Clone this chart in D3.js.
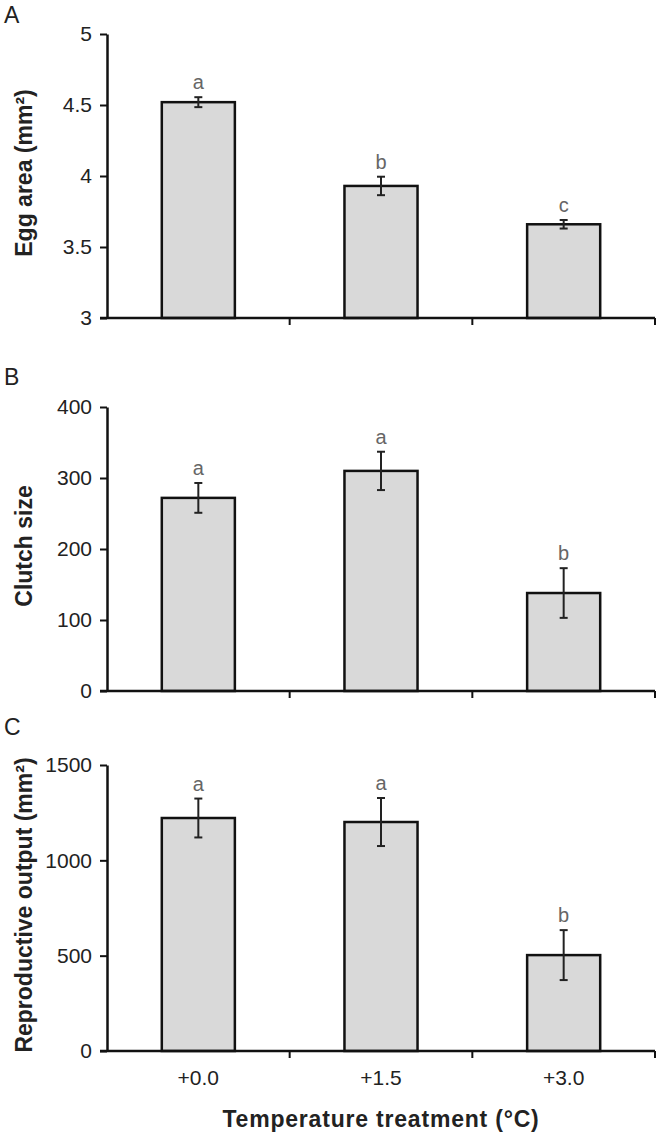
<!DOCTYPE html>
<html>
<head>
<meta charset="utf-8">
<script src="https://cdn.jsdelivr.net/npm/d3@7"></script>
<style>
  html, body { margin: 0; padding: 0; background: #fff; }
  svg { display: block; font-family: "Liberation Sans", Arial, sans-serif; }
</style>
</head>
<body>
<svg id="chart" width="660" height="1135"></svg>
<script>
// treatments on the x axis
const treatments = ['+0.0', '+1.5', '+3.0'];

// panel A: egg area (mm2)
const eggArea = [4.52, 3.93, 3.66];
const eggAreaSE = [0.035, 0.065, 0.03];
const eggLetters = ['a', 'b', 'c'];
const eggTicks = [3, 3.5, 4, 4.5, 5];

// panel B: clutch size
const clutchSize = [272, 310, 138];
const clutchSizeSE = [21, 27, 35];
const clutchLetters = ['a', 'a', 'b'];
const clutchTicks = [0, 100, 200, 300, 400];

// panel C: reproductive output (mm2)
const reproOutput = [1222, 1201, 503];
const reproOutputSE = [102, 126, 131];
const reproLetters = ['a', 'a', 'b'];
const reproTicks = [0, 500, 1000, 1500];

const svg = d3.select('#chart');

const panels = [
  { tag: 'A', tagY: 23, title: 'Egg area (mm²)', values: eggArea, se: eggAreaSE, letters: eggLetters,
    ticks: eggTicks, domain: [3, 5], top: 34, bottom: 318, showX: false },
  { tag: 'B', tagY: 385, title: 'Clutch size', values: clutchSize, se: clutchSizeSE, letters: clutchLetters,
    ticks: clutchTicks, domain: [0, 400], top: 407, bottom: 691, showX: false },
  { tag: 'C', tagY: 735, title: 'Reproductive output (mm²)', values: reproOutput, se: reproOutputSE, letters: reproLetters,
    ticks: reproTicks, domain: [0, 1500], top: 765, bottom: 1051, showX: true },
];

const left = 107;
const right = 655;

const x = d3.scaleBand()
  .domain(treatments)
  .range([left, right])
  .paddingInner(0.6)
  .paddingOuter(0.3);

panels.forEach((p) => {
  const y = d3.scaleLinear().domain(p.domain).range([p.bottom, p.top]);
  const g = svg.append('g');

  // panel letter
  g.append('text')
    .attr('x', 4)
    .attr('y', p.tagY)
    .attr('font-size', 23)
    .attr('fill', '#222')
    .text(p.tag);

  // y axis title
  g.append('text')
    .attr('transform', `translate(32,${(p.top + p.bottom) / 2 - 3}) rotate(-90)`)
    .attr('text-anchor', 'middle')
    .attr('font-size', 23)
    .attr('font-weight', 'bold')
    .attr('fill', '#222')
    .text(p.title);

  // bars
  g.selectAll('rect.bar')
    .data(p.values)
    .enter()
    .append('rect')
    .attr('class', 'bar')
    .attr('x', (d, i) => x(treatments[i]))
    .attr('width', x.bandwidth())
    .attr('y', (d) => y(d))
    .attr('height', (d) => y(p.domain[0]) - y(d))
    .attr('fill', '#d9d9d9')
    .attr('stroke', '#111')
    .attr('stroke-width', 2.5);

  // error bars
  const eb = g.selectAll('g.err')
    .data(p.values)
    .enter()
    .append('g')
    .attr('class', 'err')
    .attr('stroke', '#222')
    .attr('stroke-width', 2);
  const cx = (i) => x(treatments[i]) + x.bandwidth() / 2;
  eb.append('line')
    .attr('x1', (d, i) => cx(i)).attr('x2', (d, i) => cx(i))
    .attr('y1', (d, i) => y(d - p.se[i])).attr('y2', (d, i) => y(d + p.se[i]));
  eb.append('line')
    .attr('x1', (d, i) => cx(i) - 4).attr('x2', (d, i) => cx(i) + 4)
    .attr('y1', (d, i) => y(d + p.se[i])).attr('y2', (d, i) => y(d + p.se[i]));
  eb.append('line')
    .attr('x1', (d, i) => cx(i) - 4).attr('x2', (d, i) => cx(i) + 4)
    .attr('y1', (d, i) => y(d - p.se[i])).attr('y2', (d, i) => y(d - p.se[i]));

  // significance letters
  g.selectAll('text.sig')
    .data(p.values)
    .enter()
    .append('text')
    .attr('class', 'sig')
    .attr('x', (d, i) => cx(i))
    .attr('y', (d, i) => y(d + p.se[i]) - 8)
    .attr('text-anchor', 'middle')
    .attr('font-size', 20)
    .attr('fill', '#666')
    .text((d, i) => p.letters[i]);

  // y axis
  const yAxis = g.append('g')
    .attr('transform', `translate(${left},0)`)
    .call(d3.axisLeft(y).tickValues(p.ticks).tickFormat((d) => String(d))
      .tickSize(7).tickPadding(8).tickSizeOuter(0));
  yAxis.select('.domain').attr('stroke', '#111').attr('stroke-width', 2.5);
  yAxis.selectAll('.tick line').attr('stroke', '#111').attr('stroke-width', 2);
  yAxis.selectAll('.tick text')
    .attr('font-size', 21)
    .attr('fill', '#222')
    .attr('font-family', '"Liberation Sans", Arial, sans-serif');

  // x axis with ticks at band boundaries
  const xg = g.append('g');
  xg.append('line')
    .attr('x1', left - 7).attr('x2', right)
    .attr('y1', p.bottom).attr('y2', p.bottom)
    .attr('stroke', '#111').attr('stroke-width', 2.5);
  xg.selectAll('line.btick')
    .data(treatments)
    .enter()
    .append('line')
    .attr('class', 'btick')
    .attr('x1', (d) => x(d) + x.bandwidth() + x.step() * 0.3)
    .attr('x2', (d) => x(d) + x.bandwidth() + x.step() * 0.3)
    .attr('y1', p.bottom).attr('y2', p.bottom + 7)
    .attr('stroke', '#111').attr('stroke-width', 2);

  if (p.showX) {
    xg.selectAll('text.xl')
      .data(treatments)
      .enter()
      .append('text')
      .attr('class', 'xl')
      .attr('x', (d) => x(d) + x.bandwidth() / 2)
      .attr('y', p.bottom + 34)
      .attr('text-anchor', 'middle')
      .attr('font-size', 21)
      .attr('fill', '#222')
      .text((d) => d);

    svg.append('text')
      .attr('x', (left + right) / 2)
      .attr('y', 1127)
      .attr('text-anchor', 'middle')
      .attr('font-size', 23)
      .attr('font-weight', 'bold')
      .attr('letter-spacing', 0.8)
      .attr('fill', '#222')
      .text('Temperature treatment (°C)');
  }
});
</script>
</body>
</html>
